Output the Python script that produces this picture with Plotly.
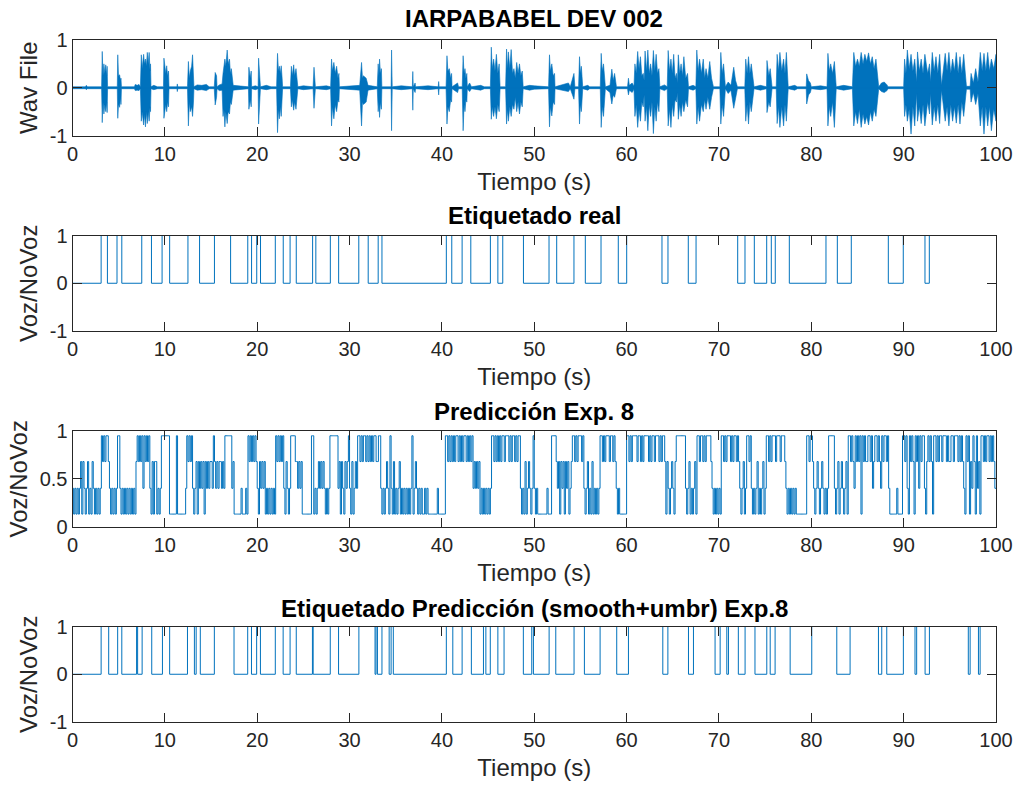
import plotly.graph_objects as go

# ---------------- data ----------------
# Waveform envelope keypoints (one line per burst / quiet stretch):
# time (s), upper peak and lower peak of the signal
wave_t = [0.0, 1.4, 1.5, 1.6,
          3.15, 3.22, 3.3, 3.4, 3.5, 3.6, 3.7, 3.75, 3.8,
          4.85, 4.9, 4.98, 5.1, 5.2, 5.25, 5.3,
          6.7, 6.8, 7.0, 7.2, 7.35,
          7.45, 7.55, 7.7, 7.8, 7.9, 8.0, 8.1, 8.2, 8.3, 8.4, 8.45, 8.5,
          8.8, 9.2,
          9.85, 9.9, 10.0, 10.1, 10.2, 10.3, 10.4, 10.45,
          11.3, 11.35, 11.4,
          12.45, 12.55, 12.65, 12.75, 12.9, 13.0, 13.1, 13.15,
          13.5, 14.0, 14.5, 14.8,
          15.35, 15.45, 15.6, 15.65,
          15.9, 16.2, 16.3, 16.4, 16.5, 16.6, 16.75, 16.85, 17.0, 17.1, 17.2, 17.4,
          18.0, 19.05, 19.1, 19.25, 19.35, 19.4,
          19.8, 20.1, 20.15, 20.3, 20.35,
          21.0, 21.5,
          22.1, 22.2, 22.3, 22.4, 22.5, 22.6, 22.7, 22.75,
          23.6, 23.7, 23.8, 23.95, 24.05, 24.2, 24.4,
          25.0, 26.05, 26.15, 26.3,
          27.5, 27.95, 28.05, 28.15, 28.3, 28.45, 28.6, 28.75, 28.85, 28.9,
          30.0, 31.1, 31.3, 31.4, 31.5, 31.8, 32.0,
          33.0, 33.1, 33.18, 33.25, 33.35, 33.45, 33.5,
          34.5, 34.55, 34.62,
          35.6, 36.8, 36.85, 36.9, 37.1, 37.15,
          38.5, 39.6, 39.65, 39.7,
          40.45, 40.55, 40.65, 40.8, 40.95, 41.05, 41.1,
          41.7, 41.8,
          42.2, 42.3, 42.4, 42.5, 42.6, 42.7, 42.75,
          43.0, 43.2, 44.2, 44.6,
          45.25, 45.35, 45.45, 45.6, 45.75, 45.9, 46.05, 46.2, 46.3,
          46.9, 47.0, 47.1, 47.2, 47.35, 47.5, 47.65, 47.8, 47.95, 48.1, 48.25, 48.4, 48.55, 48.7, 48.8,
          49.5, 50.0,
          51.55, 51.65, 51.75, 51.9, 52.05, 52.2, 52.25,
          53.7, 53.9, 54.3, 54.4,
          54.8, 54.9, 55.0, 55.1, 55.25,
          55.8, 56.0,
          57.15, 57.25, 57.35, 57.5, 57.7,
          58.2, 58.4, 58.55, 58.7, 58.9,
          60.1, 60.2, 60.3, 60.6, 60.8,
          60.9, 61.05, 61.2, 61.35, 61.5, 61.65, 61.8, 61.9, 62.0, 62.15, 62.3, 62.45, 62.6, 62.75, 62.9, 63.05, 63.2, 63.35, 63.5, 63.6,
          64.1, 64.4,
          64.5, 64.65, 64.8, 64.95, 65.1, 65.25, 65.4, 65.5,
          65.6, 65.75, 65.9, 66.05, 66.2, 66.4, 66.6, 66.7,
          67.2, 67.5,
          67.6, 67.75, 67.9, 68.1, 68.3, 68.45, 68.6, 68.8, 69.0, 69.2, 69.4,
          70.1, 70.2, 70.35, 70.5, 70.7,
          71.0, 71.3, 71.6, 71.8, 72.0,
          72.8, 72.9, 73.05, 73.2, 73.35, 73.5, 73.8,
          74.5,
          75.15, 75.2, 75.4, 75.55, 75.75,
          76.2, 76.3, 76.45, 76.6, 76.8, 77.0, 77.15, 77.3, 77.5,
          78.2, 78.5,
          79.45, 79.5, 79.7, 79.9, 80.0,
          81.0, 81.7, 81.8, 81.95, 82.1, 82.3, 82.5, 82.7,
          83.5,
          84.45, 84.6, 84.8, 85.0, 85.2, 85.4, 85.6, 85.8, 86.0, 86.2, 86.4, 86.6, 86.8, 87.0, 87.3,
          87.6, 87.9, 88.2, 88.3,
          89.5, 90.0,
          90.1, 90.25, 90.4, 90.6, 90.8, 91.0, 91.2, 91.4,
          91.5, 91.7, 91.9, 92.1, 92.3, 92.6, 92.8, 92.9,
          93.1, 93.3, 93.5, 93.7, 93.9, 94.1,
          94.5, 94.7, 94.9, 95.1, 95.3, 95.5, 95.7, 95.9, 96.1, 96.3, 96.5, 96.8,
          97.2, 97.3, 97.55, 97.8, 98.05,
          98.3, 98.5, 98.7, 98.9, 99.1, 99.3, 99.5, 99.75, 100.0]
wave_hi = [.02, .02, .05, .02,
           .02, .76, .25, .50, .30, .48, .25, .45, .02,
           .02, .69, .25, .27, .15, .20, .02,
           .02, .07, .05, .07, .02,
           .69, .40, .70, .50, .60, .45, .74, .50, .74, .35, .50, .02,
           .05, .02,
           .02, .62, .45, .30, .46, .25, .35, .02,
           .02, .08, .02,
           .02, .55, .20, .35, .45, .69, .20, .02,
           .06, .05, .07, .02,
           .02, .32, .25, .02,
           .06, .08, .30, .50, .60, .45, .79, .50, .60, .30, .40, .05,
           .04, .02, .43, .20, .35, .02,
           .04, .02, .62, .20, .02,
           .05, .02,
           .02, .72, .35, .45, .30, .46, .20, .02,
           .02, .45, .25, .48, .25, .40, .02,
           .04, .02, .43, .02,
           .04, .02, .60, .35, .53, .30, .45, .20, .30, .02,
           .04, .05, .53, .20, .25, .20, .05,
           .02, .50, .25, .60, .30, .40, .02,
           .02, .79, .02,
           .04, .02, .34, .02, .10, .02,
           .04, .02, .13, .02,
           .02, .67, .35, .40, .20, .30, .02,
           .10, .02,
           .02, .67, .30, .40, .20, .30, .02,
           .10, .02, .05, .02,
           .02, .85, .40, .60, .35, .70, .30, .50, .02,
           .02, .81, .40, .75, .40, .80, .30, .40, .20, .53, .30, .50, .25, .35, .02,
           .05, .04,
           .02, .69, .35, .50, .25, .30, .02,
           .10, .02, .30, .02,
           .02, .65, .30, .45, .02,
           .05, .02,
           .02, .72, .35, .50, .02,
           .05, .39, .15, .30, .02,
           .02, .20, .05, .10, .03,
           .50, .30, .76, .40, .65, .25, .30, .15, .77, .35, .79, .30, .50, .25, .78, .35, .70, .30, .40, .02,
           .06, .02,
           .78, .35, .60, .30, .70, .20, .30, .10,
           .69, .30, .50, .25, .65, .20, .30, .02,
           .05, .02,
           .79, .35, .60, .30, .60, .20, .40, .20, .55, .20, .02,
           .02, .74, .30, .50, .02,
           .12, .05, .43, .15, .02,
           .02, .60, .30, .65, .30, .50, .02,
           .05,
           .02, .57, .25, .40, .02,
           .02, .70, .35, .74, .35, .60, .30, .74, .02,
           .05, .02,
           .02, .29, .15, .10, .02,
           .04, .02, .72, .35, .50, .30, .55, .02,
           .05,
           .02, .74, .45, .60, .45, .74, .50, .70, .55, .73, .50, .65, .40, .60, .02,
           .10, .12, .06, .02,
           .02, .02,
           .60, .30, .79, .40, .70, .35, .60, .12,
           .75, .35, .60, .30, .70, .30, .50, .12,
           .74, .35, .65, .30, .70, .05,
           .72, .35, .74, .30, .60, .35, .74, .30, .65, .30, .70, .03,
           .03, .30, .10, .40, .12,
           .74, .35, .72, .35, .74, .35, .60, .40, .70]
wave_lo = [-.02, -.02, -.04, -.02,
           -.02, -.73, -.30, -.55, -.35, -.50, -.30, -.52, -.02,
           -.02, -.64, -.35, -.41, -.20, -.35, -.02,
           -.02, -.06, -.05, -.06, -.02,
           -.70, -.50, -.78, -.55, -.82, -.50, -.75, -.50, -.70, -.40, -.50, -.02,
           -.04, -.02,
           -.02, -.64, -.55, -.35, -.50, -.30, -.40, -.02,
           -.02, -.08, -.02,
           -.02, -.80, -.30, -.50, -.40, -.60, -.30, -.02,
           -.05, -.04, -.06, -.02,
           -.02, -.36, -.20, -.02,
           -.06, -.05, -.60, -.45, -.82, -.50, -.75, -.50, -.55, -.30, -.35, -.05,
           -.04, -.02, -.45, -.25, -.40, -.02,
           -.04, -.02, -.76, -.20, -.02,
           -.04, -.02,
           -.02, -.94, -.45, -.65, -.40, -.60, -.20, -.02,
           -.02, -.40, -.25, -.47, -.30, -.45, -.02,
           -.04, -.02, -.43, -.02,
           -.04, -.02, -.80, -.40, -.65, -.35, -.50, -.25, -.30, -.02,
           -.04, -.05, -.80, -.30, -.35, -.30, -.05,
           -.02, -.50, -.30, -.62, -.30, -.45, -.02,
           -.02, -.90, -.02,
           -.04, -.02, -.47, -.02, -.10, -.02,
           -.04, -.02, -.15, -.02,
           -.02, -.76, -.40, -.50, -.25, -.30, -.02,
           -.10, -.02,
           -.02, -.90, -.35, -.50, -.25, -.30, -.02,
           -.08, -.02, -.05, -.02,
           -.02, -.66, -.40, -.60, -.40, -.65, -.35, -.50, -.02,
           -.02, -.76, -.45, -.70, -.40, -.60, -.35, -.45, -.20, -.50, -.30, -.55, -.30, -.40, -.02,
           -.05, -.03,
           -.02, -.82, -.40, -.59, -.30, -.35, -.02,
           -.08, -.02, -.24, -.02,
           -.02, -.76, -.35, -.50, -.02,
           -.05, -.02,
           -.02, -.83, -.40, -.60, -.02,
           -.10, -.34, -.15, -.20, -.02,
           -.02, -.15, -.05, -.10, -.03,
           -.60, -.35, -.83, -.45, -.70, -.30, -.40, -.15, -.70, -.40, -.90, -.35, -.60, -.30, -.96, -.40, -.70, -.30, -.50, -.02,
           -.06, -.02,
           -.80, -.45, -.83, -.35, -.60, -.25, -.30, -.10,
           -.66, -.35, -.60, -.30, -.50, -.25, -.40, -.02,
           -.05, -.02,
           -.76, -.40, -.70, -.35, -.50, -.25, -.45, -.20, -.45, -.20, -.02,
           -.02, -.76, -.35, -.60, -.02,
           -.12, -.05, -.43, -.20, -.02,
           -.02, -.70, -.35, -.76, -.30, -.50, -.02,
           -.05,
           -.02, -.52, -.30, -.40, -.02,
           -.02, -.75, -.40, -.83, -.40, -.80, -.35, -.70, -.02,
           -.05, -.02,
           -.02, -.34, -.15, -.10, -.02,
           -.04, -.02, -.80, -.40, -.60, -.30, -.83, -.02,
           -.05,
           -.02, -.80, -.50, -.75, -.45, -.83, -.55, -.76, -.60, -.78, -.50, -.70, -.45, -.60, -.02,
           -.08, -.10, -.06, -.02,
           -.02, -.02,
           -.60, -.35, -.70, -.45, -.97, -.40, -.80, -.12,
           -.70, -.40, -.75, -.35, -.80, -.30, -.55, -.12,
           -.78, -.40, -.70, -.35, -.75, -.05,
           -.70, -.40, -.80, -.35, -.70, -.40, -.74, -.35, -.76, -.30, -.60, -.03,
           -.03, -.30, -.10, -.35, -.12,
           -.80, -.40, -.97, -.40, -.80, -.40, -.90, -.45, -.70]
assert len(wave_t) == len(wave_hi) == len(wave_lo)

# Ground-truth voice/no-voice switching instants (s); the label starts at 0
real_edges = [3.10, 3.78, 4.82, 5.34, 7.50, 8.55, 9.70, 10.52, 12.50, 13.76, 15.37, 17.12,
              18.98, 19.39, 19.95, 20.36, 21.96, 22.82, 23.56, 24.23, 26.00, 26.35, 27.92, 28.82,
              31.00, 32.02, 33.10, 33.51, 40.48, 41.07, 42.19, 43.13, 45.25, 46.06, 46.59, 48.83,
              51.60, 52.43, 54.30, 55.53, 57.23, 59.10, 60.01, 63.83, 64.48, 66.68, 67.52, 72.03,
              72.82, 73.83, 75.17, 75.67, 76.10, 77.62, 81.59, 82.82, 84.33, 88.34, 89.96, 92.31,
              92.78]

# Network output, quantised to four levels (codes 0-3), one code every 0.125 s
pred_levels = [0.13, 0.40, 0.68, 0.95]
pred_step = 0.125
pred_codes = ("10101012" "02101201" "02101010" "13232332" "10101013"    # 0-5 s
              "31010101" "01010102" "32323132" "32310202" "20101333"    # 5-10 s
              "33330000" "00300000" "00132323" "10120212" "12021212"    # 10-15 s
              "21321212" "21213333" "33120000" "00100010" "32323232"    # 15-20 s
              "10212120" "10101010" "32323231" "02101333" "32212120"    # 20-25 s
              "00000003" "30101212" "12101013" "33333312" "02102123"    # 25-30 s
              "10201213" "32323323" "23232332" "23310101" "21031020"    # 30-35 s
              "10120101" "01010130" "12101010" "01010000" "00001000"    # 35-40 s
              "00033232" "32323323" "23233232" "32312121" "20101010"    # 40-45 s
              "10133232" "32323323" "33232332" "32331010" "20121013"    # 45-50 s
              "10100000" "00010003" "33321202" "12021201" "23323233"    # 50-55 s
              "32310120" "10201010" "13323233" "32332321" "01000000"    # 55-60 s
              "33232333" "32332323" "33323233" "23332323" "32021012"    # 60-65 s
              "10233333" "33310120" "10120332" "33232333" "32101010"    # 65-70 s
              "10332323" "33232332" "32101201" "33231010" "12010120"    # 70-75 s
              "13323233" "32333233" "32101010" "10100000" "00003323"    # 75-80 s
              "32101210" "12101013" "33331012" "01210120" "33232132"    # 80-85 s
              "32303232" "23323123" "32321323" "32310000" "00100003"    # 85-90 s
              "32310323" "20323132" "33102323" "20332323" "32333232"    # 90-95 s
              "23323332" "32321032" "30213203" "12033232" "33232321")   # 95-100 s

# Smoothed + thresholded prediction switching instants (s); starts at 0
smooth_edges = [3.10, 3.92, 4.89, 5.34, 6.94, 7.05, 7.54, 8.58, 9.74, 10.52,
                12.45, 13.20, 13.39, 13.84, 15.36, 17.49, 18.97, 19.38, 19.94, 20.35,
                21.96, 22.81, 23.56, 24.23, 25.98, 26.06, 27.91, 28.81, 31.01, 32.76,
                32.87, 33.02, 33.51, 34.29, 34.50, 34.74, 40.48, 41.18, 42.19, 43.19,
                44.50, 44.76, 45.24, 46.06, 46.73, 48.82, 49.73, 49.91, 51.61, 52.33,
                54.31, 55.43, 57.13, 58.93, 60.20, 63.92, 64.47, 66.70, 67.24, 69.58,
                70.13, 70.85, 71.03, 72.10, 72.83, 73.90, 75.18, 75.55, 76.08, 77.71,
                80.05, 82.76, 84.20, 87.27, 87.63, 88.17, 89.97, 91.23, 91.41, 92.32,
                92.79, 97.00, 97.20, 98.10, 98.28]

titles = ["IARPABABEL DEV 002", "Etiquetado real", "Predicción Exp. 8",
          "Etiquetado Predicción (smooth+umbr) Exp.8"]
y_labels = ["Wav File", "Voz/NoVoz", "Voz/NoVoz", "Voz/NoVoz"]
x_label = "Tiempo (s)"
x_ticks = [0, 10, 20, 30, 40, 50, 60, 70, 80, 90, 100]

# ---------------- helpers ----------------
def toggles_to_steps(edges, t_end=100.0):
    xs, ys = [0.0], [0]
    level = 0
    for e in edges:
        level = 1 - level
        xs.append(e)
        ys.append(level)
    xs.append(t_end)
    ys.append(level)
    return xs, ys

BLUE = "#0072BD"
INK = "#262626"
FONT = "Liberation Sans"

fig = go.Figure()

# panel 1: waveform envelope as a filled band plus the quiet baseline
fig.add_trace(go.Scatter(
    x=wave_t + wave_t[::-1], y=wave_hi + wave_lo[::-1],
    fill="toself", fillcolor=BLUE, mode="lines",
    line=dict(color=BLUE, width=0.6), xaxis="x", yaxis="y", hoverinfo="skip"))
fig.add_trace(go.Scatter(x=[0, 100], y=[0, 0], mode="lines",
                         line=dict(color=BLUE, width=1.2), xaxis="x", yaxis="y"))

# panel 2: ground truth
rx, ry = toggles_to_steps(real_edges)
fig.add_trace(go.Scatter(x=rx, y=ry, mode="lines", line_shape="hv",
                         line=dict(color=BLUE, width=1), xaxis="x2", yaxis="y2"))

# panel 3: quantised prediction
px = [i * pred_step for i in range(len(pred_codes))] + [100.0]
py = [pred_levels[int(c)] for c in pred_codes]
py = py + [py[-1]]
fig.add_trace(go.Scatter(x=px, y=py, mode="lines", line_shape="hv",
                         line=dict(color=BLUE, width=1), xaxis="x3", yaxis="y3"))

# panel 4: smoothed + thresholded prediction
sx, sy = toggles_to_steps(smooth_edges)
fig.add_trace(go.Scatter(x=sx, y=sy, mode="lines", line_shape="hv",
                         line=dict(color=BLUE, width=1), xaxis="x4", yaxis="y4"))

# ---------------- layout ----------------
W, H = 1018.0, 787.0
x_dom = [72.5 / W, 996 / W]
panels_px = [(40, 135.5), (235.5, 331), (431, 526.5), (626.5, 722)]
title_y_px = [18, 215, 411, 608]
y_ranges = [[-1, 1], [-1, 1], [0, 1], [-1, 1]]
y_ticks = [[-1, 0, 1], [-1, 0, 1], [0, 0.5, 1], [-1, 0, 1]]
y_ticktext = [["-1", "0", "1"], ["-1", "0", "1"], ["0", "0.5", "1"], ["-1", "0", "1"]]

axis_common = dict(showline=True, linecolor=INK, linewidth=1, mirror="ticks",
                   ticks="inside", ticklen=9, tickwidth=1, tickcolor=INK,
                   showgrid=False, zeroline=False, automargin=False,
                   tickfont=dict(family=FONT, size=20, color=INK))

layout = dict(width=1018, height=787,
              margin=dict(l=0, r=0, t=0, b=0, pad=0, autoexpand=False),
              paper_bgcolor="white", plot_bgcolor="white", showlegend=False,
              font=dict(family=FONT, color=INK))
annotations = []
for i in range(4):
    top, bot = panels_px[i]
    sfx = "" if i == 0 else str(i + 1)
    layout["xaxis" + sfx] = dict(axis_common, domain=x_dom, range=[0, 100],
                                 tickvals=x_ticks, anchor="y" + sfx,
                                 title=dict(text=x_label, standoff=9,
                                            font=dict(family=FONT, size=24, color=INK)))
    layout["yaxis" + sfx] = dict(axis_common, domain=[1 - bot / H, 1 - top / H],
                                 range=y_ranges[i], tickvals=y_ticks[i],
                                 ticktext=y_ticktext[i], anchor="x" + sfx,
                                 title=dict(text=y_labels[i], standoff=5,
                                            font=dict(family=FONT, size=24, color=INK)))
    annotations.append(dict(text="<b>" + titles[i] + "</b>", xref="paper", yref="paper",
                            x=(x_dom[0] + x_dom[1]) / 2, y=1 - title_y_px[i] / H,
                            xanchor="center", yanchor="middle", showarrow=False,
                            font=dict(family=FONT, size=24, color="black")))
layout["annotations"] = annotations
fig.update_layout(**layout)

fig.write_html("out.html")
